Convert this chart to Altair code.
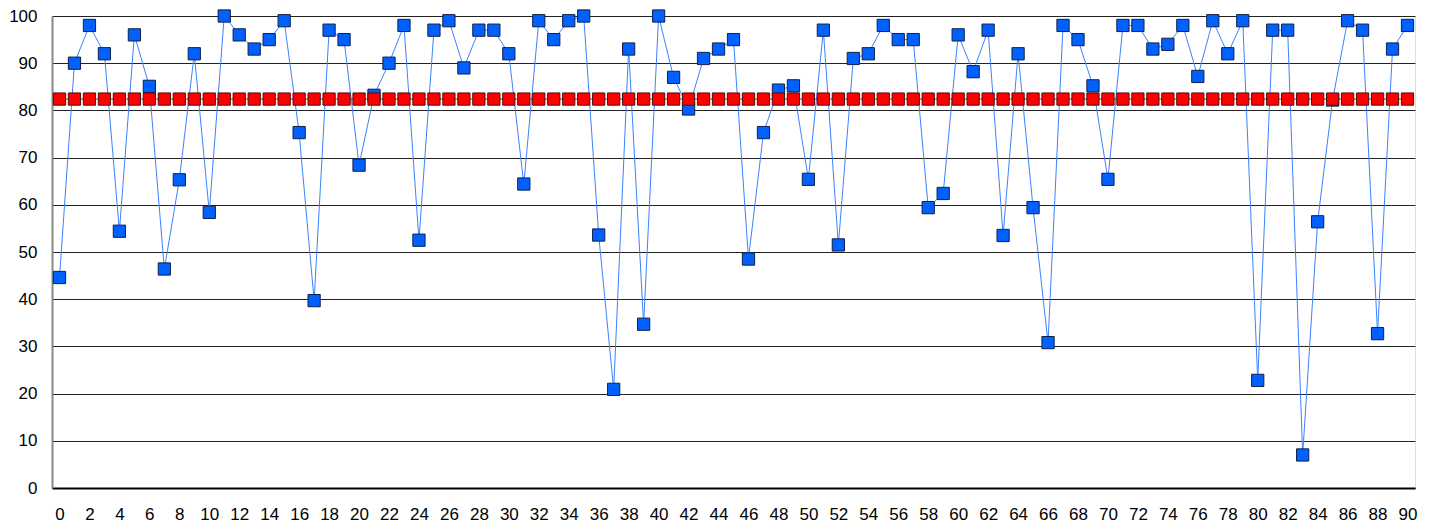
import altair as alt
import pandas as pd

x_vals = list(range(0, 91))
blue_vals = [44.6, 90, 98, 92, 54.4, 96, 85.1, 46.4, 65.3, 92, 58.4, 100, 96, 93, 95, 99, 75.3, 39.7, 97, 95,
             68.4, 83.2, 90, 98, 52.5, 97, 99, 89, 97, 97, 92, 64.4, 99, 95, 99, 100, 53.6, 20.9, 93, 34.7,
             100, 87, 80.3, 91, 93, 95, 48.5, 75.3, 84.3, 85.2, 65.4, 97, 51.5, 91, 92, 98, 95, 95, 59.4, 62.4,
             96, 88.2, 97, 53.5, 92, 59.4, 30.8, 98, 95, 85.2, 65.4, 98, 98, 93, 94, 98, 87.2, 99, 92, 99,
             22.8, 97, 97, 7, 56.4, 82.2, 99, 97, 32.7, 93, 98]
red_vals = [82.4] * 91
x_ticks = list(range(0, 91, 2))
y_ticks = list(range(0, 101, 10))

blue_df = pd.DataFrame({"x": x_vals, "y": blue_vals})
red_df = pd.DataFrame({"x": x_vals, "y": red_vals})

FONT = "Liberation Sans"

x_enc = alt.X("x:Q", scale=alt.Scale(domain=[-0.5, 90.5], nice=False, zero=False),
              axis=alt.Axis(values=x_ticks, title=None, grid=False, ticks=False,
                            labelPadding=18, labelFontSize=17, labelFont=FONT, labelColor="#000",
                            domainColor="#000", domainWidth=2, labelFlush=False, labelOverlap=False))
y_enc = alt.Y("y:Q", scale=alt.Scale(domain=[0, 100], nice=False),
              axis=alt.Axis(values=y_ticks, title=None, grid=True, gridColor="#222", gridWidth=1,
                            ticks=False, labelPadding=15, labelFontSize=17, labelFont=FONT,
                            labelColor="#000", domainColor="#888", domainWidth=2, labelFlush=False))

blue_line = alt.Chart(blue_df).mark_line(color="#3b82ff", strokeWidth=1).encode(x=x_enc, y=y_enc)
blue_pts = alt.Chart(blue_df).mark_point(shape="square", filled=True, size=150, color="#0061ff",
                                         stroke="#10204a", strokeWidth=1, opacity=1).encode(x=x_enc, y=y_enc)
red_line = alt.Chart(red_df).mark_line(color="#ff0000", strokeWidth=1).encode(x=x_enc, y=y_enc)
red_pts = alt.Chart(red_df).mark_point(shape="square", filled=True, size=150, color="#ff0000",
                                       stroke="#4a1010", strokeWidth=1, opacity=1).encode(x=x_enc, y=y_enc)

chart = alt.layer(blue_line, blue_pts, red_line, red_pts).properties(
    width=1363, height=472,
    autosize=alt.AutoSizeParams(type="none"),
    padding={"left": 44, "top": 8, "right": 10, "bottom": 36},
).configure_view(stroke="#888", strokeWidth=2).configure(background="white")

chart.save("out.html", embed_options={"renderer": "svg", "actions": False})
